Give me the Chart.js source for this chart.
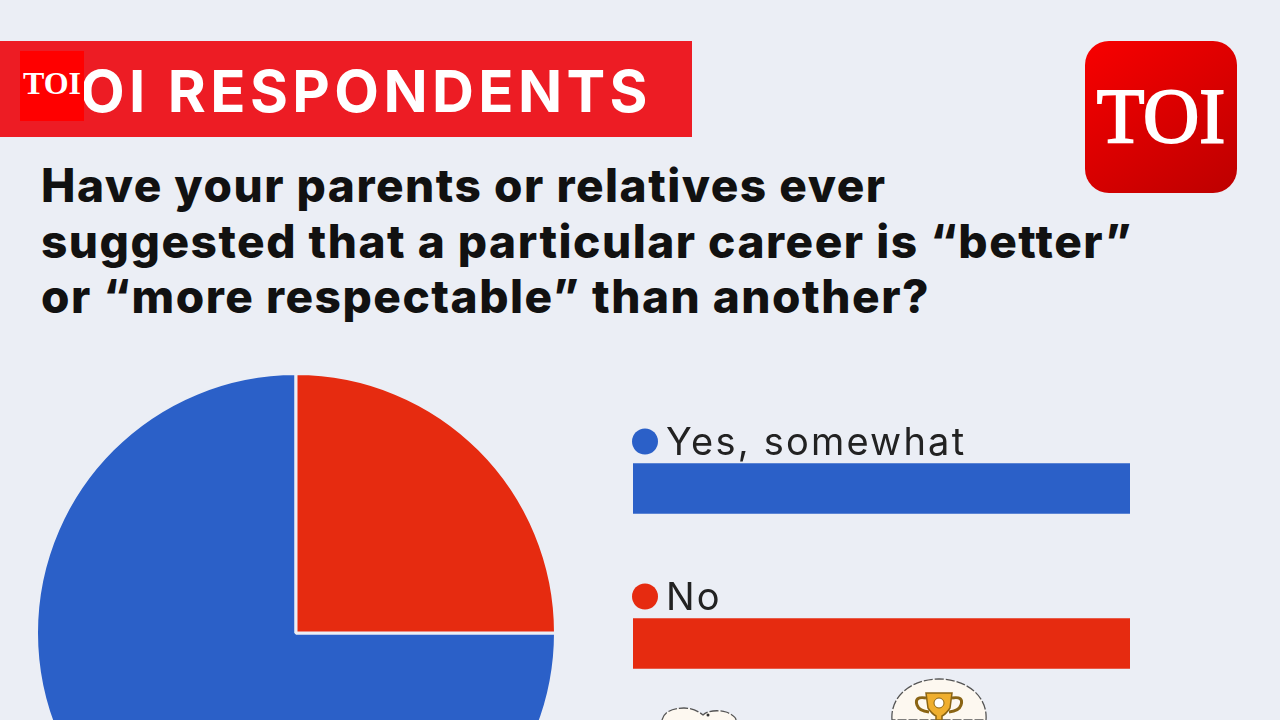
<!DOCTYPE html>
<html lang="en">
<head>
    <meta charset="UTF-8">
    <title>TOI Respondents</title>
    <script src="https://cdn.jsdelivr.net/npm/chart.js"></script>
    <style>
        html, body { margin: 0; width: 1280px; height: 720px; overflow: hidden; background: #ebeef5; }
        .abs { position: absolute; }
        #banner { left: 0; top: 41px; width: 692px; height: 96px; background: #ed1c24; }
        #bannerText { right: 628px; top: 51px; font: 700 58px Inter, sans-serif; line-height: 80px; color: #fff; white-space: nowrap; letter-spacing: 4.4px; }
        #smallLogo { left: 20px; top: 51px; width: 64px; height: 70px; background: #f00; color: #fff; font: 700 32px "Liberation Serif", serif; line-height: 65px; text-align: center; }
        #logo { left: 1085px; top: 41px; width: 152px; height: 152px; border-radius: 24px; background: linear-gradient(145deg, #f80000, #bd0000); color: #fff; font: 78px "Liberation Serif", serif; line-height: 150px; text-align: center; -webkit-text-stroke: 2px #fff; }
        #question { left: 41px; top: 158px; margin: 0; font: 800 46px/55.5px Inter, sans-serif; color: #111; letter-spacing: 1.5px; white-space: nowrap; }
        #pieBox { left: 35px; top: 372px; width: 522px; height: 522px; }
        #barBox { left: 630px; top: 411px; width: 500px; height: 310px; }
        #icons { left: 640px; top: 670px; }
    </style>
</head>
<body>
    <div class="abs" id="banner"></div>
    <div class="abs" id="bannerText">TOI RESPONDENTS</div>
    <div class="abs" id="smallLogo">TOI</div>
    <div class="abs" id="logo">TOI</div>
    <h1 class="abs" id="question">Have your parents or relatives ever<br>suggested that a particular career is “better”<br>or “more respectable” than another?</h1>

    <div class="abs" id="pieBox"><canvas id="pieChart"></canvas></div>
    <div class="abs" id="barBox"><canvas id="barChart"></canvas></div>

    <svg class="abs" id="icons" width="370" height="50">
        <path d="M22 50 C24 42 32 38 44 38 C52 38 58 41 63 45 C68 40 80 40 86 42 C92 44 96 48 96 50" fill="#fdf8f0" stroke="#555" stroke-width="1.3" stroke-dasharray="9 2"/>
        <circle cx="68" cy="45" r="1.5" fill="#333"/>
        <path d="M252 50 C250 26 272 9 299 9 C326 9 348 26 346 50 Z" fill="#fdf8f0" stroke="#555" stroke-width="1.3" stroke-dasharray="9 2"/>
        <path d="M286 23 H312 L310 38 Q306 44 302 46 V50 H296 V46 Q292 44 288 38 Z" fill="#efae2e" stroke="#8a6414" stroke-width="1.5"/>
        <path d="M286 28 Q274 26 277 35 Q279 41 289 42 M312 28 Q324 26 321 35 Q319 41 309 42" fill="none" stroke="#8a6414" stroke-width="3"/>
        <circle cx="299" cy="33" r="5" fill="#fff" stroke="#8a6414" stroke-width="1"/>
    </svg>

    <script>
        const categories = ['Yes, somewhat', 'No'];
        const pieValues = [75, 25];
        const barValues = [100, 100];
        const colors = ['#2b60c8', '#e62b10'];

        // dot + label above each bar
        const barLabels = {
            id: 'barLabels',
            afterDatasetsDraw(chart) {
                const ctx = chart.ctx;
                const meta = chart.getDatasetMeta(0);
                ctx.save();
                meta.data.forEach((bar, i) => {
                    ctx.fillStyle = colors[i];
                    ctx.beginPath();
                    ctx.arc(15, bar.y - 47, 13, 0, Math.PI * 2);
                    ctx.fill();
                    ctx.fillStyle = '#222';
                    ctx.font = '38px Inter, sans-serif';
                    ctx.letterSpacing = '2.2px';
                    ctx.textBaseline = 'alphabetic';
                    ctx.fillText(categories[i], 36, bar.y - 34);
                });
                ctx.restore();
            }
        };

        new Chart(document.getElementById('pieChart'), {
            type: 'pie',
            data: {
                labels: categories,
                datasets: [{
                    data: pieValues,
                    backgroundColor: colors,
                    borderColor: '#ebeef5',
                    borderWidth: 3
                }]
            },
            options: {
                responsive: true,
                maintainAspectRatio: false,
                rotation: 90,
                animation: false,
                plugins: { legend: { display: false }, tooltip: { enabled: false } }
            }
        });

        new Chart(document.getElementById('barChart'), {
            type: 'bar',
            data: {
                labels: categories,
                datasets: [{
                    data: barValues,
                    backgroundColor: colors,
                    barThickness: 50
                }]
            },
            options: {
                indexAxis: 'y',
                responsive: true,
                maintainAspectRatio: false,
                animation: false,
                layout: { padding: { left: 3 } },
                scales: {
                    x: { display: false, min: 0, max: 100 },
                    y: { display: false }
                },
                plugins: { legend: { display: false }, tooltip: { enabled: false } }
            },
            plugins: [barLabels]
        });
    </script>
</body>
</html>
